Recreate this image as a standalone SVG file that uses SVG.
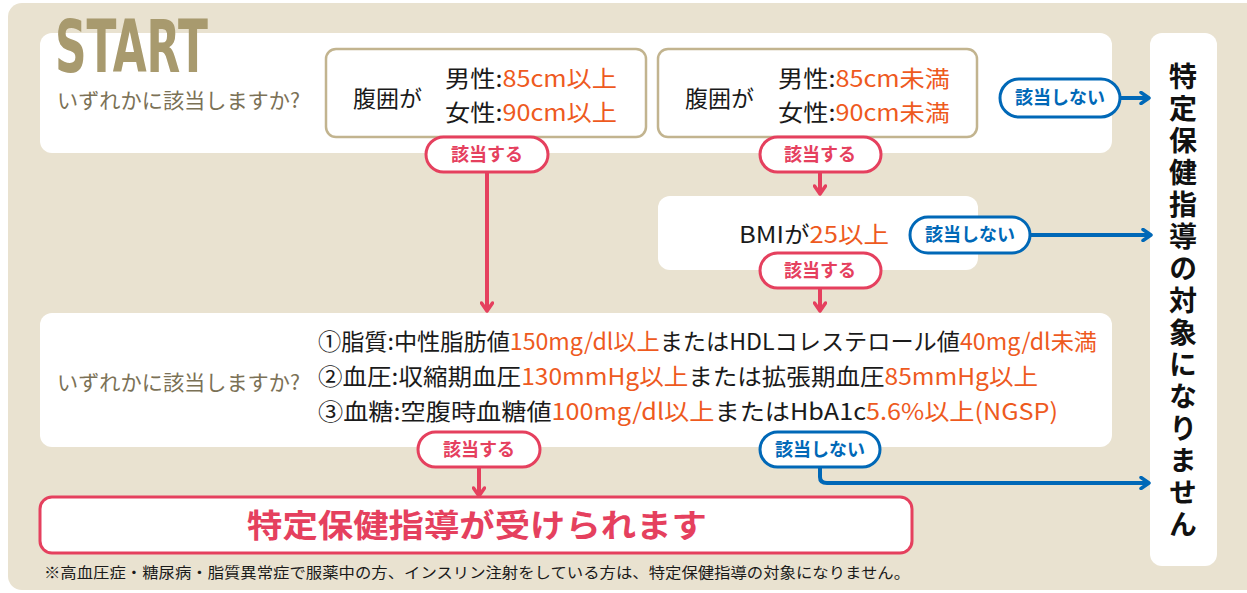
<svg xmlns="http://www.w3.org/2000/svg" width="1247" height="593" viewBox="0 0 1247 593">
<defs>
<style>
text{font-family:"Noto Sans CJK JP","Noto Sans",sans-serif;}
.panel{fill:#fff;}
.box{fill:#fff;stroke:#C2B48F;stroke-width:2.5;}
.q{font-size:21px;fill:#7B7156;}
.t{font-size:23px;fill:#1a1a1a;}
.o{fill:#EE5A1E;}
.pp{fill:#fff;stroke:#E5405E;stroke-width:3;}
.bp{fill:#fff;stroke:#0068B7;stroke-width:3;}
.pt{font-size:18px;font-weight:bold;fill:#E5405E;text-anchor:middle;}
.bt{font-size:18px;font-weight:bold;fill:#0068B7;text-anchor:middle;}
.pl{fill:none;stroke:#E5405E;stroke-width:4;}
.bl{fill:none;stroke:#0068B7;stroke-width:4;}
</style>
<marker id="ap" viewBox="0 0 14 14" refX="11" refY="7" markerWidth="14" markerHeight="14" markerUnits="userSpaceOnUse" orient="auto">
<path d="M3,1.5 L11,7 L3,12.5" fill="none" stroke="#E5405E" stroke-width="3.5" stroke-linecap="round" stroke-linejoin="round"/>
</marker>
<marker id="ab" viewBox="0 0 14 14" refX="11" refY="7" markerWidth="14" markerHeight="14" markerUnits="userSpaceOnUse" orient="auto">
<path d="M3,1.5 L11,7 L3,12.5" fill="none" stroke="#0068B7" stroke-width="3.5" stroke-linecap="round" stroke-linejoin="round"/>
</marker>
</defs>
<rect x="0" y="0" width="1247" height="593" fill="#fff"/>
<rect x="8" y="3" width="1252" height="587" rx="14" fill="#E9E2D0"/>

<g id="panel-top">
<rect class="panel" x="40" y="33" width="1072" height="120" rx="12"/>
<text transform="translate(55,72) scale(1,1.3)" x="0" y="0" style="font-family:'DejaVu Sans Condensed','DejaVu Sans',sans-serif" font-size="56" font-weight="bold" fill="#A89A6E" textLength="153" lengthAdjust="spacingAndGlyphs">START</text>
<text class="q" x="57" y="108" textLength="243" lengthAdjust="spacingAndGlyphs">いずれかに該当しますか?</text>
</g>

<g id="box-waist-over">
<rect class="box" x="326" y="49" width="320" height="88" rx="10"/>
<text class="t" x="353" y="107">腹囲が</text>
<text class="t" x="445" y="87" textLength="172" lengthAdjust="spacingAndGlyphs">男性:<tspan class="o">85cm以上</tspan></text>
<text class="t" x="445" y="121" textLength="172" lengthAdjust="spacingAndGlyphs">女性:<tspan class="o">90cm以上</tspan></text>
</g>

<g id="box-waist-under">
<rect class="box" x="658" y="49" width="319" height="88" rx="10"/>
<text class="t" x="685" y="107">腹囲が</text>
<text class="t" x="778" y="87" textLength="172" lengthAdjust="spacingAndGlyphs">男性:<tspan class="o">85cm未満</tspan></text>
<text class="t" x="778" y="121" textLength="172" lengthAdjust="spacingAndGlyphs">女性:<tspan class="o">90cm未満</tspan></text>
</g>

<g id="box-bmi">
<rect class="panel" x="658" y="196" width="320" height="74" rx="12"/>
<text class="t" x="739" y="243" textLength="150" lengthAdjust="spacingAndGlyphs">BMIが<tspan class="o">25以上</tspan></text>
</g>

<g id="panel-risk">
<rect class="panel" x="40" y="313" width="1072" height="134" rx="12"/>
<text class="q" x="57" y="390" textLength="243" lengthAdjust="spacingAndGlyphs">いずれかに該当しますか?</text>
<text class="t" x="318" y="350" textLength="779" lengthAdjust="spacingAndGlyphs">①脂質:中性脂肪値<tspan class="o">150mg/dl以上</tspan>またはHDLコレステロール値<tspan class="o">40mg/dl未満</tspan></text>
<text class="t" x="318" y="385" textLength="720" lengthAdjust="spacingAndGlyphs">②血圧:収縮期血圧<tspan class="o">130mmHg以上</tspan>または拡張期血圧<tspan class="o">85mmHg以上</tspan></text>
<text class="t" x="318" y="420" textLength="740" lengthAdjust="spacingAndGlyphs">③血糖:空腹時血糖値<tspan class="o">100mg/dl以上</tspan>またはHbA1c<tspan class="o">5.6%以上(NGSP)</tspan></text>
</g>

<g id="result-yes">
<rect x="40" y="497" width="872" height="56" rx="12" fill="#fff" stroke="#E5405E" stroke-width="3"/>
<text x="477" y="537" font-size="32" font-weight="bold" fill="#E5405E" text-anchor="middle" textLength="460" lengthAdjust="spacingAndGlyphs">特定保健指導が受けられます</text>
</g>

<g id="result-no">
<rect class="panel" x="1150" y="33" width="67" height="533" rx="12"/>
<text x="1183" y="62" writing-mode="vertical-rl" font-size="28" font-weight="bold" fill="#111" style="letter-spacing:4px">特定保健指導の対象になりません</text>
</g>

<g id="connectors">
<path class="pl" d="M487,172 V311" marker-end="url(#ap)"/>
<path class="pl" d="M820,172 V194" marker-end="url(#ap)"/>
<path class="pl" d="M820,288 V311" marker-end="url(#ap)"/>
<path class="pl" d="M479,467 V496" marker-end="url(#ap)"/>
<path class="bl" d="M1120,98 H1149" marker-end="url(#ab)"/>
<path class="bl" d="M1030,235 H1151" marker-end="url(#ab)"/>
<path class="bl" d="M820,467 V477 Q820,483 827,483 H1149" marker-end="url(#ab)"/>
</g>

<g id="label-yes-1"><rect class="pp" x="426" y="137" width="122" height="35" rx="17.5"/><text class="pt" x="487" y="161">該当する</text></g>
<g id="label-yes-2"><rect class="pp" x="760" y="137" width="121" height="35" rx="17.5"/><text class="pt" x="820" y="161">該当する</text></g>
<g id="label-yes-3"><rect class="pp" x="760" y="253" width="121" height="35" rx="17.5"/><text class="pt" x="820" y="277">該当する</text></g>
<g id="label-yes-4"><rect class="pp" x="418" y="432" width="122" height="35" rx="17.5"/><text class="pt" x="479" y="456">該当する</text></g>
<g id="label-no-1"><rect class="bp" x="1000" y="79" width="120" height="38" rx="19"/><text class="bt" x="1060" y="104">該当しない</text></g>
<g id="label-no-2"><rect class="bp" x="910" y="217" width="120" height="36" rx="18"/><text class="bt" x="970" y="241">該当しない</text></g>
<g id="label-no-3"><rect class="bp" x="760" y="432" width="120" height="35" rx="17.5"/><text class="bt" x="820" y="456">該当しない</text></g>

<text x="44" y="578" font-size="15" fill="#1a1a1a" textLength="866" lengthAdjust="spacingAndGlyphs">※高血圧症・糖尿病・脂質異常症で服薬中の方、インスリン注射をしている方は、特定保健指導の対象になりません。</text>
</svg>
